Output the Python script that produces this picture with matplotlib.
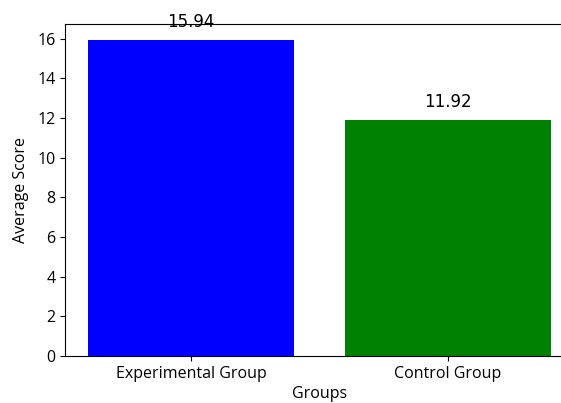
import matplotlib
matplotlib.use("Agg")
import matplotlib.pyplot as plt

plt.rcParams["font.family"] = ["Open Sans", "DejaVu Sans"]

groups = ["Experimental Group", "Control Group"]
avg_scores = [15.94, 11.92]
bar_colors = ["blue", "green"]

fig = plt.figure(figsize=(5.61, 4.03), dpi=100)
# the right edge of the axes runs past the picture, as in the reference
ax = fig.add_axes([0.116, 0.117, 0.907, 0.823])

bars = ax.bar(groups, avg_scores, color=bar_colors)
for bar, score in zip(bars, avg_scores):
    ax.text(bar.get_x() + bar.get_width() / 2, score + 0.45, "%.2f" % score,
            ha="center", va="bottom", fontsize=12, family="DejaVu Sans")

ax.set_xlabel("Groups", fontsize=11.5, labelpad=3)
ax.set_ylabel("Average Score", fontsize=11.5, labelpad=6)
ax.tick_params(labelsize=11.5)

fig.savefig("out.png", dpi=100)
